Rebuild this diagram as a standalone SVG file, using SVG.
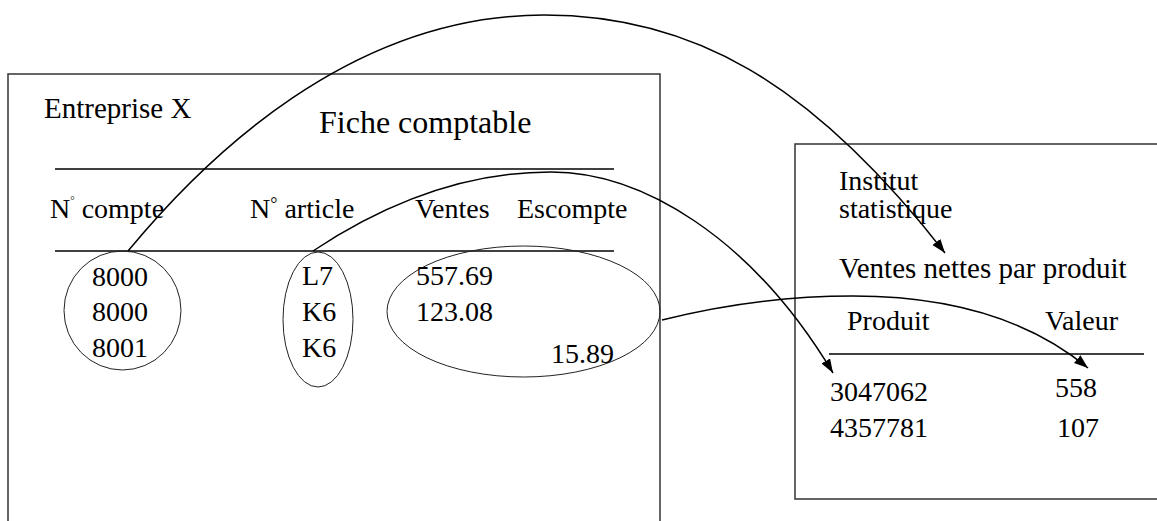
<svg xmlns="http://www.w3.org/2000/svg" width="1157" height="521" viewBox="0 0 1157 521">
<style>
text{font-family:"Liberation Serif","Times New Roman",serif;font-size:28px;fill:#000}
.box{fill:none;stroke:#333;stroke-width:1.5}
.rule{stroke:#000;stroke-width:1.5}
.ell{fill:none;stroke:#222;stroke-width:1}
.con{fill:none;stroke:#000;stroke-width:1.5}
</style>
<defs>
<marker id="arr" markerUnits="userSpaceOnUse" markerWidth="16" markerHeight="12" refX="14" refY="5" orient="auto">
<path d="M0,0 L14,5 L0,10 Z" fill="#000"/>
</marker>
</defs>
<g id="fiche">
<rect class="box" x="8" y="74" width="652" height="470"/>
<text x="44" y="118" style="font-size:29px">Entreprise X</text>
<text x="319" y="133" style="font-size:32px">Fiche comptable</text>
<line class="rule" x1="55" y1="169" x2="614" y2="169"/>
<text x="50" y="218">N<tspan style="font-size:11px" dy="-14">°</tspan><tspan dy="14"> compte</tspan></text>
<text x="250" y="218">N<tspan style="font-size:18px" dy="-8">°</tspan><tspan dy="8"> article</tspan></text>
<text x="415" y="218">Ventes</text>
<text x="517" y="218">Escompte</text>
<line class="rule" x1="55" y1="251" x2="614" y2="251"/>
</g>
<g id="comptes">
<ellipse class="ell" cx="122.5" cy="310.5" rx="58.5" ry="59.5"/>
<text x="92" y="286">8000</text>
<text x="92" y="321">8000</text>
<text x="92" y="357">8001</text>
</g>
<g id="articles">
<ellipse class="ell" cx="318" cy="319.5" rx="35" ry="67.5"/>
<text x="302" y="285">L7</text>
<text x="302" y="321">K6</text>
<text x="302" y="357">K6</text>
</g>
<g id="montants">
<ellipse class="ell" cx="523.5" cy="311.5" rx="136.5" ry="65.5"/>
<text x="416" y="285">557.69</text>
<text x="416" y="321">123.08</text>
<text x="551" y="363">15.89</text>
</g>
<g id="institut">
<rect class="box" x="795" y="144" width="380" height="355"/>
<text x="839" y="190">Institut</text>
<text x="839" y="218">statistique</text>
<text x="839" y="278" style="font-size:29px">Ventes nettes par produit</text>
<text x="847" y="330">Produit</text>
<text x="1045" y="330">Valeur</text>
<line class="rule" x1="829" y1="354" x2="1144" y2="354"/>
<text x="830" y="401">3047062</text>
<text x="830" y="437">4357781</text>
<text x="1055" y="397">558</text>
<text x="1057" y="437">107</text>
</g>
<g id="connectors">
<path class="con" d="M128,251 C205,158 350,15 544,15 C690,15 810,80 945,253" marker-end="url(#arr)"/>
<path class="con" d="M313,251 Q432,172 551,172 C640,172 750,235 833,373" marker-end="url(#arr)"/>
<path class="con" d="M662,320 Q757,296 853,296 C950,296 1030,320 1088,368" marker-end="url(#arr)"/>
</g>
</svg>
